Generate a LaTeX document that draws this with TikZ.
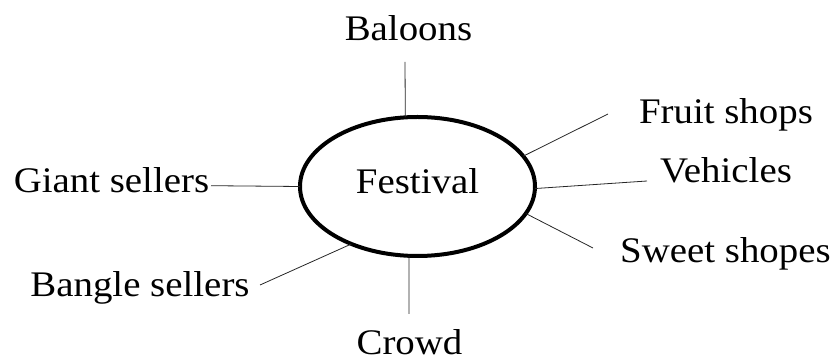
\documentclass[tikz,border=0pt]{standalone}
\usepackage{fontspec}
\setmainfont[FakeStretch=1.08]{Liberation Serif}
\usetikzlibrary{shapes.geometric}
\begin{document}
\begin{tikzpicture}[x=1pt,y=-1pt,
  lbl/.style={inner sep=0pt,anchor=base,font=\fontsize{36}{40}\selectfont},
  conn/.style={line width=0.8pt,draw=black!85}]
\useasboundingbox (0,0) rectangle (839,358);
\node[ellipse,draw,line width=4pt,outer sep=0pt,inner sep=0pt,
  minimum width=235pt,minimum height=139pt,
  text height=22pt,text depth=7pt,font=\fontsize{36}{40}\selectfont] (fest) at (417.5,186.5) {Festival};
\node[lbl] (bal) at (408.5,41) {Baloons};
\node[lbl] (giant) at (111.5,193) {Giant sellers};
\node[lbl] (bangle) at (140,297) {Bangle sellers};
\node[lbl] (crowd) at (409.5,355) {Crowd};
\node[lbl] (fruit) at (726,124) {Fruit shops};
\node[lbl] (veh) at (726,183) {Vehicles};
\node[lbl] (sweet) at (725.5,263) {Sweet shopes};
\coordinate (cbal) at (405,62);
\coordinate (cgiant) at (211,185.7);
\coordinate (cbangle) at (260,285);
\coordinate (ccrowd) at (409,314);
\coordinate (cfruit) at (608,114);
\coordinate (cveh) at (647,181);
\coordinate (csweet) at (593,248);
\draw[conn] (fest.100) -- (cbal);
\draw[conn] (fest.180) -- (cgiant);
\draw[conn] (fest.221) -- (cbangle);
\draw[conn] (fest.263) -- (ccrowd);
\draw[conn] (fest.16.6) -- (cfruit);
\draw[conn] (fest.359.3) -- (cveh);
\draw[conn] (fest.346.6) -- (csweet);
\end{tikzpicture}
\end{document}
